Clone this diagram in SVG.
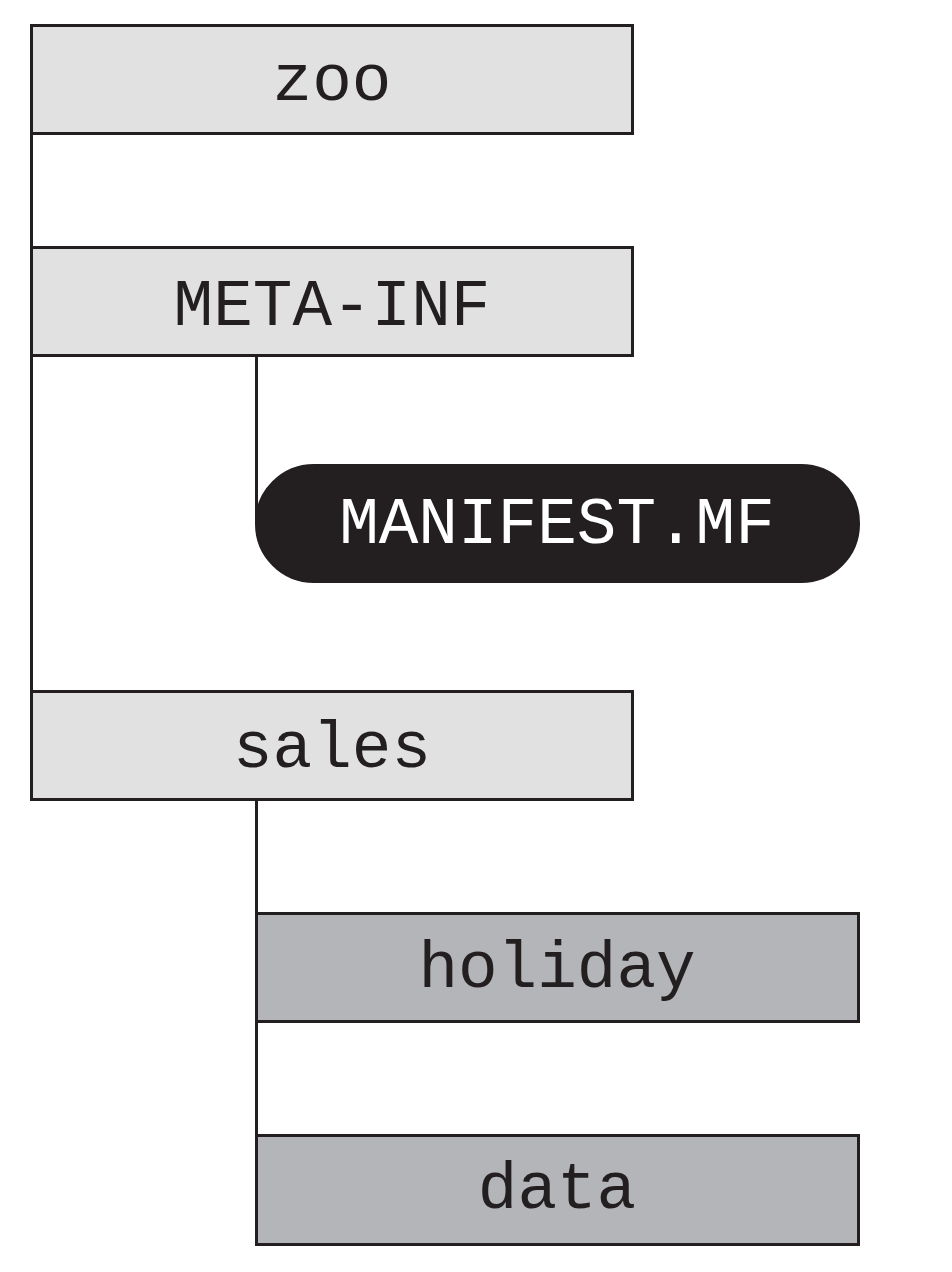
<svg xmlns="http://www.w3.org/2000/svg" width="952" height="1272" viewBox="0 0 952 1272">
<style>
.box{stroke:#231f20;stroke-width:3}
.light{fill:#e1e1e1}
.dark{fill:#b4b5b8}
.pill{fill:#231f20;stroke:#231f20;stroke-width:2}
.lbl{font-family:"Liberation Mono","Courier New",monospace;font-size:66px;text-anchor:middle;fill:#231f20}
.lblw{fill:#ffffff}
.conn{stroke:#231f20;stroke-width:3;fill:none}
</style>
<rect width="952" height="1272" fill="#ffffff"/>
<g id="connectors">
<line class="conn" x1="31.5" y1="134" x2="31.5" y2="690"/>
<line class="conn" x1="256.5" y1="356" x2="256.5" y2="524"/>
<line class="conn" x1="256.5" y1="800" x2="256.5" y2="1135"/>
</g>
<g id="zoo">
<rect class="box light" x="31.5" y="25.5" width="601" height="108"/>
<text class="lbl" x="332" y="100">zoo</text>
</g>
<g id="meta-inf">
<rect class="box light" x="31.5" y="247.5" width="601" height="108"/>
<text class="lbl" x="332" y="325">META-INF</text>
</g>
<g id="manifest">
<rect class="pill" x="256" y="465" width="603" height="117" rx="58" ry="58"/>
<text class="lbl lblw" x="557" y="543">MANIFEST.MF</text>
</g>
<g id="sales">
<rect class="box light" x="31.5" y="691.5" width="601" height="108"/>
<text class="lbl" x="332" y="767">sales</text>
</g>
<g id="holiday">
<rect class="box dark" x="256.5" y="913.5" width="602" height="108"/>
<text class="lbl" x="557" y="987">holiday</text>
</g>
<g id="data">
<rect class="box dark" x="256.5" y="1135.5" width="602" height="109"/>
<text class="lbl" x="557" y="1208">data</text>
</g>
</svg>
